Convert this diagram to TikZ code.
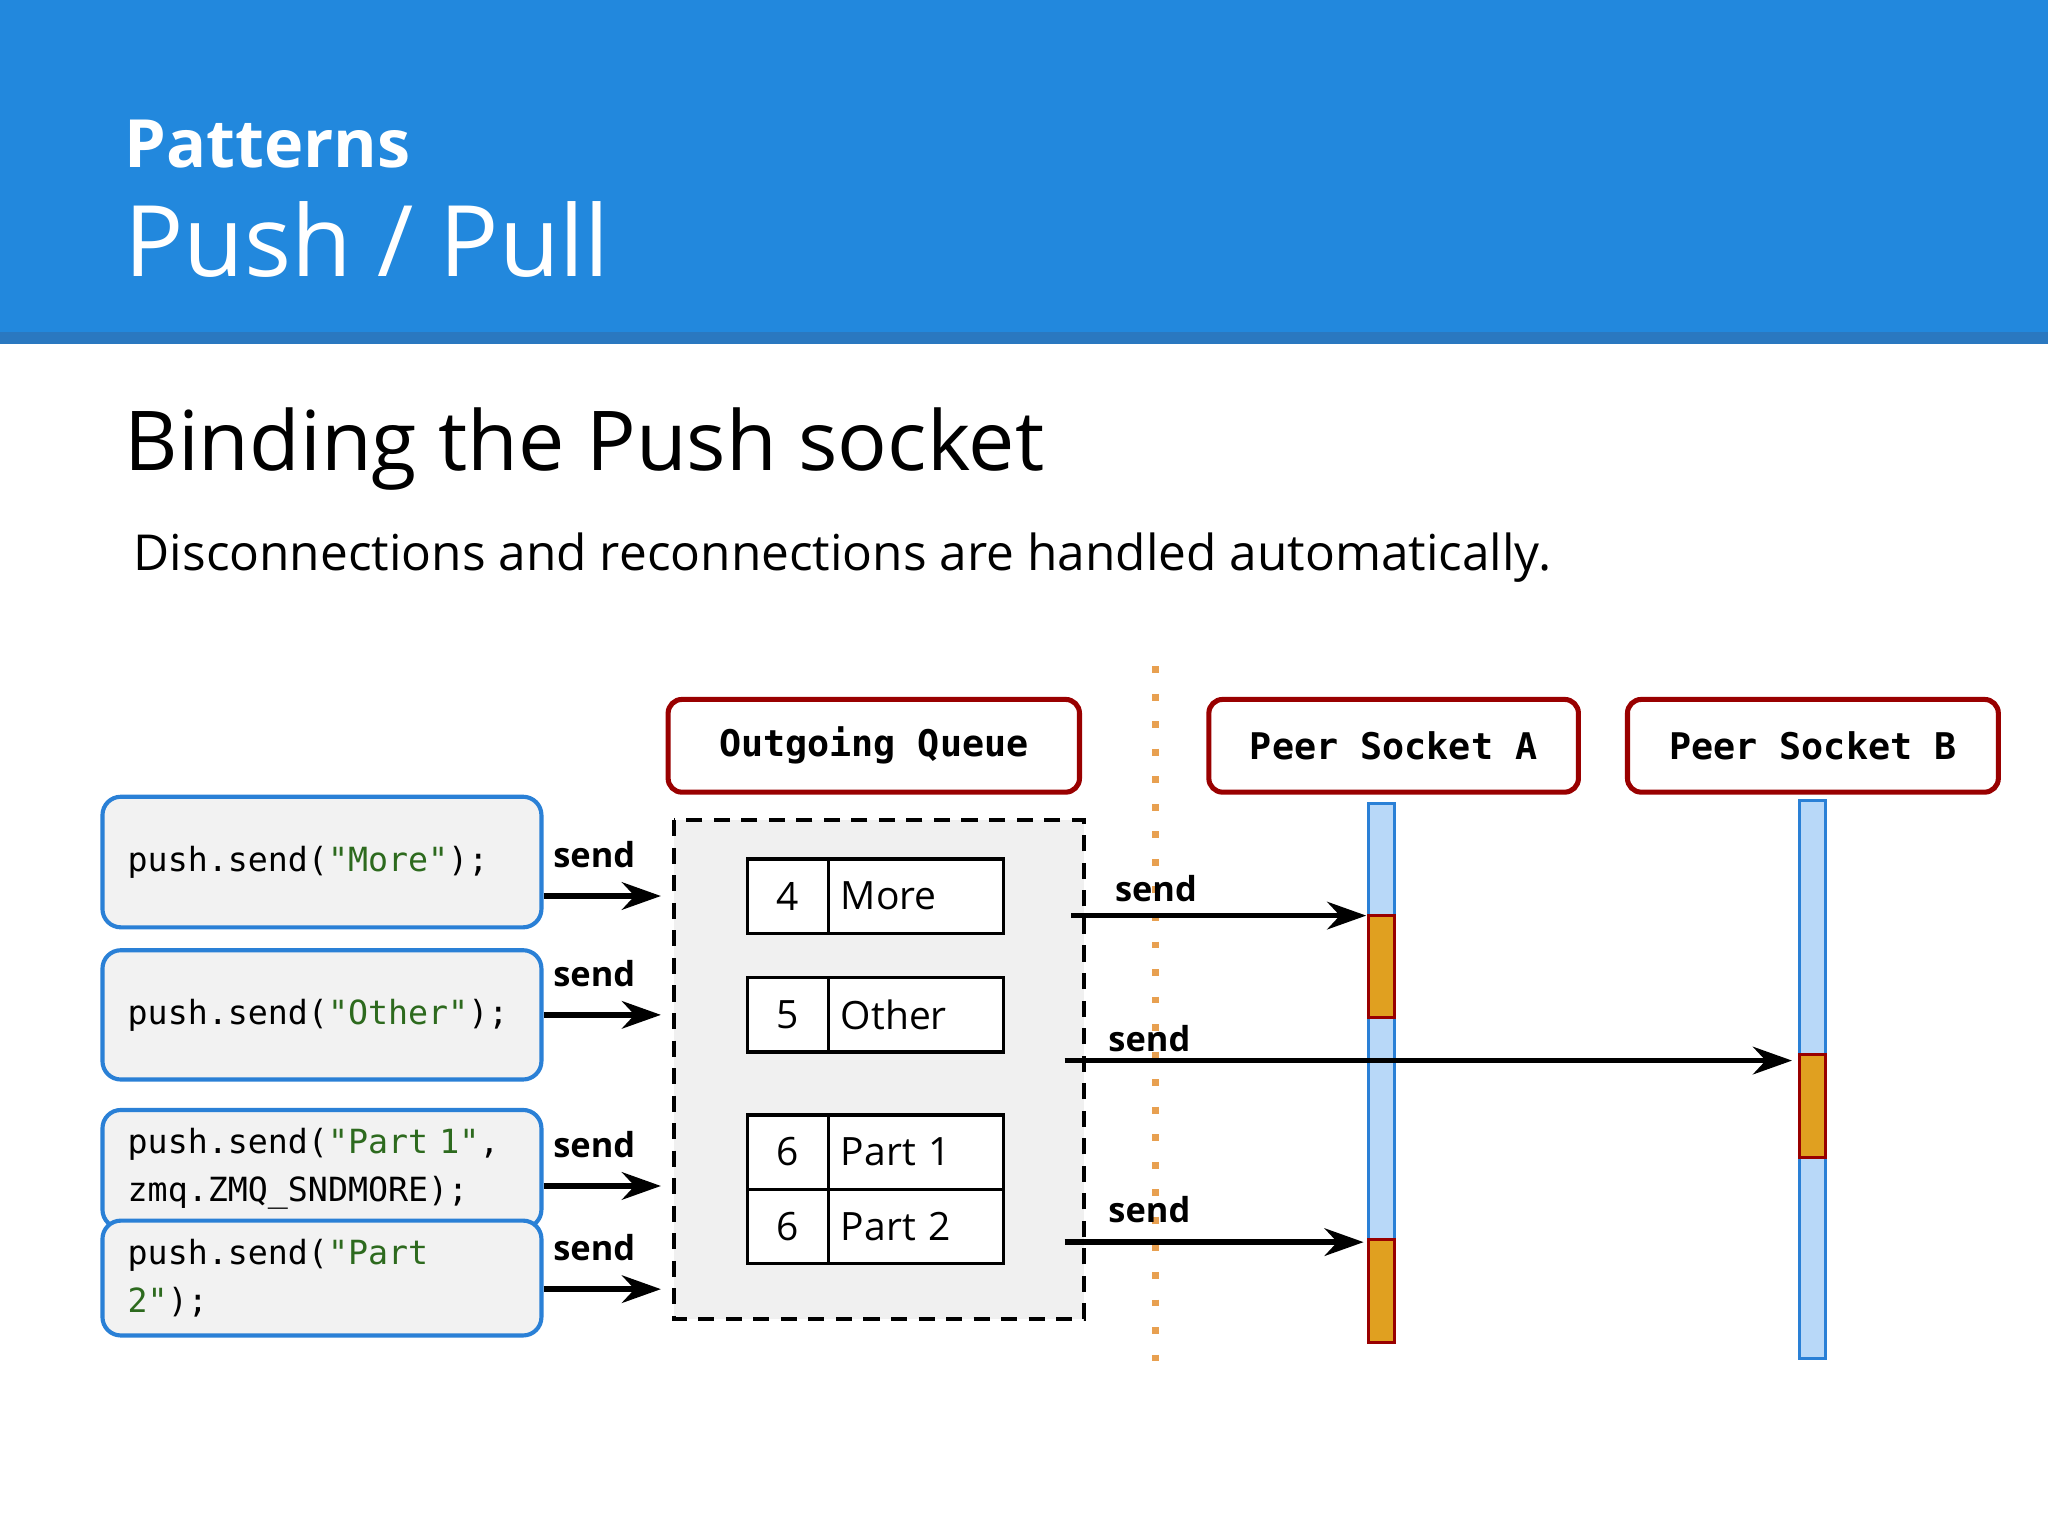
\documentclass[tikz,border=0pt]{standalone}
\usepackage{fontspec}
\setmainfont{Open Sans}
\newfontfamily\codefont{DejaVu Sans Mono}
\usetikzlibrary{arrows.meta,positioning,calc}
\definecolor{headblue}{HTML}{2288DD}
\definecolor{stripe}{HTML}{2A78C0}
\definecolor{boxred}{HTML}{990000}
\definecolor{codeblue}{HTML}{2A80D6}
\definecolor{strgreen}{HTML}{2D6A1E}
\definecolor{lifeblue}{HTML}{B8D8F8}
\definecolor{actorange}{HTML}{E0A020}
\definecolor{dotorange}{HTML}{E8A050}
\tikzset{
  title box/.style={draw=boxred,line width=2.2pt,rounded corners=6pt,fill=white,
    font=\codefont\bfseries\fontsize{16}{18}\selectfont},
  code box/.style={draw=codeblue,line width=1.8pt,rounded corners=8pt,fill=gray!10,
    font=\codefont\fontsize{14.5}{21}\selectfont,align=left,text width=5.95cm,inner xsep=11pt,inner ysep=8pt},
  cell/.style={draw,line width=1.5pt,fill=white,minimum height=1.14cm,font=\fontsize{17}{20}\selectfont,anchor=west},
  msg/.style={line width=2.4pt,-{Stealth[length=17pt,width=12pt]}},
  lbl/.style={font=\bfseries\fontsize{15}{18}\selectfont},
  life/.style={draw=codeblue,fill=lifeblue,line width=1.3pt},
  act/.style={draw=boxred,fill=actorange,line width=1.3pt}
}
\newcommand{\str}[1]{\textcolor{strgreen}{#1}}
\begin{document}
\begin{tikzpicture}[x=0.02cm,y=-0.02cm]
    \useasboundingbox (0,0) rectangle (1568,1176);
    % Header
    \fill[headblue] (0,0) rectangle (1568,256);
    \fill[stripe] (0,254) rectangle (1568,263);
    \node[anchor=base west,inner sep=0,text=white,font=\bfseries\fontsize{29}{34}\selectfont] (pat) at (95,128) {Patterns};
    \node[anchor=base west,inner sep=0,text=white,font=\fontsize{43}{50}\selectfont] (pp) at (95,212) {Push / Pull};
    \node[anchor=base west,inner sep=0,font=\fontsize{36}{42}\selectfont] (title) at (95,360) {Binding the Push socket};
    \node[anchor=base west,inner sep=0,font=\fontsize{21.6}{26}\selectfont] (sub) at (102,437) {Disconnections and reconnections are handled automatically.};

    % Queue area
    \draw[dashed,line width=1.6pt,dash pattern=on 7pt off 5pt,fill=gray!12] (516,628) rectangle (830,1010);
    \draw[dotorange,line width=3pt,dash pattern=on 3pt off 9pt] (885,510) -- (885,1058);

    % Headers
    \node[title box,minimum width=6.3cm,minimum height=1.42cm] (oq) at (669,571) {Outgoing Queue};
    \node[title box,minimum width=5.66cm,minimum height=1.42cm] (pa) at (1067,571) {Peer Socket A};
    \node[title box,minimum width=5.68cm,minimum height=1.42cm] (pb) at (1388,571) {Peer Socket B};

    % Lifelines
    \draw[life] (1048,615) rectangle (1068,1028);
    \draw[life] (1378,613) rectangle (1398,1040);
    \draw[act] (1048,701) rectangle (1068,779);
    \draw[act] (1048,949) rectangle (1068,1028);
    \draw[act] (1378,807) rectangle (1398,886);
    \coordinate (a1) at (1046,701);
    \coordinate (b1) at (1372,812);
    \coordinate (a2) at (1044,951);

    % Code boxes
    \node[code box,minimum height=2cm] (c1) at (246.5,660) {push.send(\str{"More"});};
    \node[code box,minimum height=1.98cm] (c2) at (246.5,777) {push.send(\str{"Other"});};
    \node[code box,minimum height=1.68cm] (c3) at (246.5,895) {push.send(\str{"Part 1"},\\zmq.ZMQ\_SNDMORE);};
    \node[code box,minimum height=1.66cm] (c4) at (246.5,978.5) {push.send(\str{"Part}\\\str{2"});};

    % Queue cells
    \foreach \y/\n/\t [count=\i] in {686/4/More,777/5/Other,882/6/Part 1,939/6/Part 2}{
        \node[cell,minimum width=1.24cm] (n\i) at (571,\y) {\n};
        \node[cell,text width=2.3cm,align=left,inner xsep=0.19cm] (t\i) at (633,\y) {\t};
    }

    % Incoming sends
    \foreach \i/\y in {1/686,2/777,3/908,4/987}{
        \coordinate (in\i) at (506,\y);
        \draw[msg] (c\i.east |- in\i) -- (in\i);
        \node[lbl,anchor=base] (s\i) at (455,\y-22) {send};
    }

    % Outgoing sends
    \coordinate (o1) at (820,701);
    \coordinate (o2) at (815,812);
    \coordinate (o3) at (815,951);
    \draw[msg] (o1) -- (a1);
    \node[lbl,anchor=base] (l1) at (885,690) {send};
    \draw[msg] (o2) -- (b1);
    \node[lbl,anchor=base] (l2) at (880,805) {send};
    \draw[msg] (o3) -- (a2);
    \node[lbl,anchor=base] (l3) at (880,936) {send};
\end{tikzpicture}
\end{document}
